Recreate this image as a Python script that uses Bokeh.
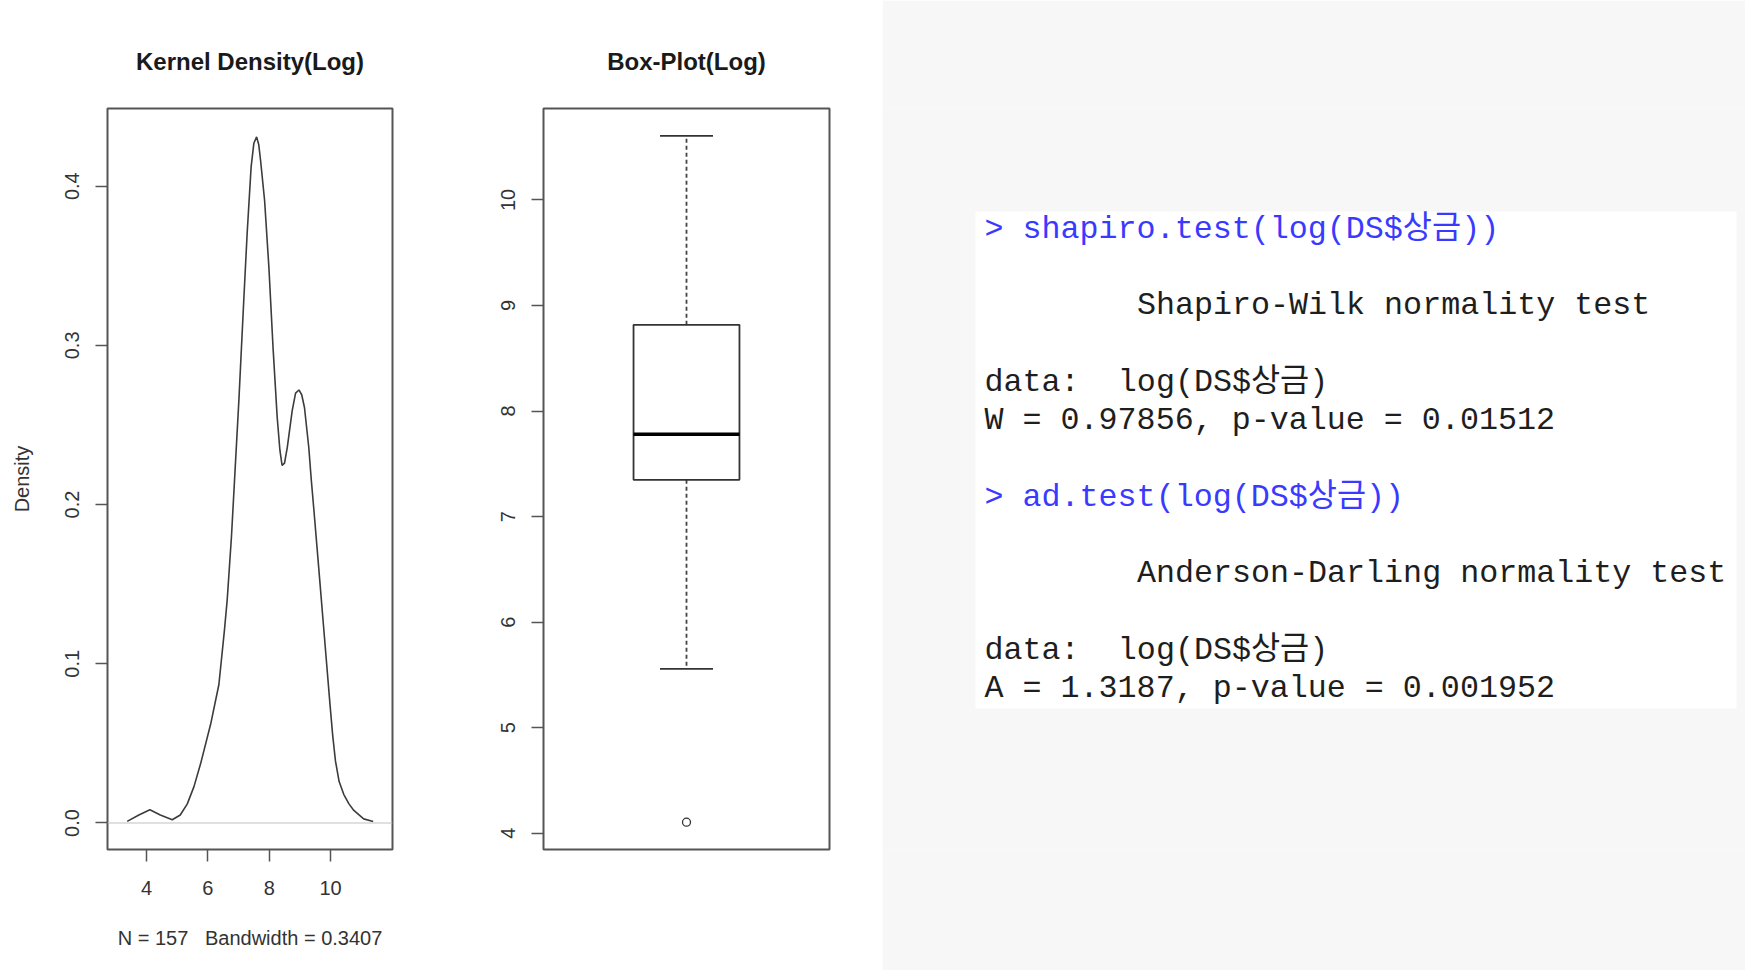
import numpy as np
from bokeh.plotting import figure
from bokeh.layouts import row
from bokeh.models import Range1d, FixedTicker, PrintfTickFormatter, Span, BoxAnnotation
from bokeh.core.properties import value
from bokeh.embed import file_html
from bokeh.resources import INLINE

# ---- kernel density of log(prize) ----
n_obs = 157
bandwidth = 0.3407
dens_x = [3.37, 3.75, 4.11, 4.45, 4.84, 5.10, 5.33, 5.55, 5.76, 6.09, 6.36, 6.54,
          6.63, 6.77, 6.88, 7.01, 7.17, 7.28, 7.41, 7.50, 7.59, 7.66, 7.72, 7.85,
          7.99, 8.13, 8.26, 8.35, 8.42, 8.50, 8.59, 8.75, 8.86, 8.97, 9.06, 9.15,
          9.29, 9.37, 9.46, 9.62, 9.80, 9.98, 10.07, 10.16, 10.28, 10.43, 10.60,
          10.76, 11.08, 11.39]
dens_y = [0.001, 0.005, 0.0083, 0.005, 0.002, 0.005, 0.012, 0.023, 0.037, 0.062,
          0.087, 0.121, 0.140, 0.180, 0.219, 0.265, 0.328, 0.370, 0.412, 0.427,
          0.431, 0.426, 0.416, 0.391, 0.349, 0.297, 0.255, 0.234, 0.2246, 0.226,
          0.236, 0.259, 0.270, 0.272, 0.269, 0.261, 0.236, 0.216, 0.196, 0.159,
          0.117, 0.075, 0.055, 0.039, 0.026, 0.018, 0.012, 0.0079, 0.0026, 0.001]
dens_xticks = [4, 6, 8, 10]
dens_yticks = [0.0, 0.1, 0.2, 0.3, 0.4]

# ---- box plot of log(prize) ----
box_lower = 5.557
box_q1 = 7.348
box_median = 7.779
box_q3 = 8.817
box_upper = 10.607
box_outliers = [4.104]
box_yticks = [4, 5, 6, 7, 8, 9, 10]

# ---- normality test output ----
shapiro_W = 0.97856
shapiro_p = 0.01512
ad_A = 1.3187
ad_p = 0.001952

SANS = "Liberation Sans"
MONO = "'Liberation Mono', 'Noto Sans CJK KR', monospace"
FRAME = "#555555"
TICKTXT = "#333333"
H = 970
TOP, BOTTOM = 108, 121


def style_r_axes(p):
    p.outline_line_color = FRAME
    p.outline_line_width = 2
    p.xgrid.visible = False
    p.ygrid.visible = False
    for ax in p.axis:
        ax.axis_line_color = None
        ax.major_tick_in = 0
        ax.major_tick_out = 12
        ax.major_tick_line_color = FRAME
        ax.major_tick_line_width = 1.5
        ax.minor_tick_line_color = None
        ax.major_label_text_font = SANS
        ax.major_label_text_font_size = "20px"
        ax.major_label_text_color = TICKTXT
        ax.axis_label_text_font = SANS
        ax.axis_label_text_font_size = "20px"
        ax.axis_label_text_font_style = "normal"
        ax.axis_label_text_color = TICKTXT
    p.yaxis.major_label_standoff = 16
    p.xaxis.major_label_standoff = 19
    p.title.align = "center"
    p.title.text_font = SANS
    p.title.text_font_size = "24px"
    p.title.text_font_style = "bold"
    p.title.text_color = "#1a1a1a"
    p.title.standoff = 67


# ---- panel 1: density ----
p1 = figure(width=470, height=H, output_backend="svg", toolbar_location=None,
            x_range=Range1d(2.728, 12.02), y_range=Range1d(-0.01665, 0.4488),
            min_border_left=107, min_border_right=78, min_border_top=TOP,
            min_border_bottom=BOTTOM, title="Kernel Density(Log)",
            background_fill_color="white", border_fill_color="white")
style_r_axes(p1)
p1.add_layout(Span(location=0, dimension="width", line_color="#c0c0c0", line_width=1))
p1.line(dens_x, dens_y, line_color="#3c3c3c", line_width=1.6)
p1.xaxis.ticker = FixedTicker(ticks=dens_xticks)
p1.yaxis.ticker = FixedTicker(ticks=dens_yticks)
p1.yaxis.formatter = PrintfTickFormatter(format="%.1f")
p1.yaxis.major_label_orientation = "vertical"
p1.yaxis.axis_label = "Density"
p1.yaxis.axis_label_standoff = 30
gap = "\u00a0\u00a0\u00a0"
p1.xaxis.axis_label = f"N = {n_obs}{gap}Bandwidth = {bandwidth}"
p1.xaxis.axis_label_standoff = 29

# ---- panel 2: box plot ----
p2 = figure(width=412, height=H, output_backend="svg", toolbar_location=None,
            x_range=Range1d(0.46, 1.54), y_range=Range1d(3.845, 10.867),
            min_border_left=73, min_border_right=53, min_border_top=TOP,
            min_border_bottom=BOTTOM, title="Box-Plot(Log)",
            background_fill_color="white", border_fill_color="white")
style_r_axes(p2)
p2.xaxis.visible = False
p2.yaxis.ticker = FixedTicker(ticks=box_yticks)
p2.yaxis.major_label_orientation = "vertical"

pos, half, cap = 1.0, 0.2, 0.1
p2.segment(x0=[pos, pos], y0=[box_q3, box_q1], x1=[pos, pos], y1=[box_upper, box_lower],
           line_color="#444444", line_width=1.8, line_dash="4 3")
p2.segment(x0=[pos - cap] * 2, y0=[box_upper, box_lower], x1=[pos + cap] * 2,
           y1=[box_upper, box_lower], line_color="#333333", line_width=1.8)
p2.quad(left=pos - half, right=pos + half, bottom=box_q1, top=box_q3,
        fill_color="white", line_color="#333333", line_width=1.8)
p2.segment(x0=pos - half, y0=box_median, x1=pos + half, y1=box_median,
           line_color="black", line_width=3.5)
p2.scatter([pos] * len(box_outliers), box_outliers, marker="circle", size=8,
           fill_color=None, line_color="#333333", line_width=1.3)

# ---- panel 3: console output (data units are page pixels, y downward) ----
p3 = figure(width=863, height=H, output_backend="svg", toolbar_location=None,
            x_range=Range1d(0, 863), y_range=Range1d(H - BOTTOM, TOP),
            x_axis_type=None, y_axis_type=None,
            min_border_left=0, min_border_right=0, min_border_top=TOP,
            min_border_bottom=BOTTOM,
            background_fill_color="#f7f7f7", border_fill_color="#f7f7f7",
            outline_line_color=None)
p3.xgrid.visible = False
p3.ygrid.visible = False
p3.add_layout(BoxAnnotation(left=93, right=854, top=211, bottom=708,
                            fill_color="white", fill_alpha=1, line_color=None,
                            level="underlay"))

cell = 19.05
line_h = 38.3
top_line = 229
BLUE, INK = "#3a3aff", "#1e1e1e"
# (row, column, text, colour)
console = [
    (0, 0, "> shapiro.test(log(DS$상금))", BLUE),
    (2, 8, "Shapiro-Wilk normality test", INK),
    (4, 0, "data:", INK),
    (4, 7, "log(DS$상금)", INK),
    (5, 0, f"W = {shapiro_W}, p-value = {shapiro_p}", INK),
    (7, 0, "> ad.test(log(DS$상금))", BLUE),
    (9, 8, "Anderson-Darling normality test", INK),
    (11, 0, "data:", INK),
    (11, 7, "log(DS$상금)", INK),
    (12, 0, f"A = {ad_A}, p-value = {ad_p}", INK),
]
p3.text(x=[102 + c[1] * cell for c in console],
        y=[top_line + c[0] * line_h for c in console],
        text=[c[2] for c in console],
        text_color=[c[3] for c in console],
        text_font=value(MONO), text_font_size="31.7px",
        text_baseline="middle", text_align="left")

layout = row(p1, p2, p3, spacing=0)
open("out.html", "w").write(file_html(layout, INLINE))
